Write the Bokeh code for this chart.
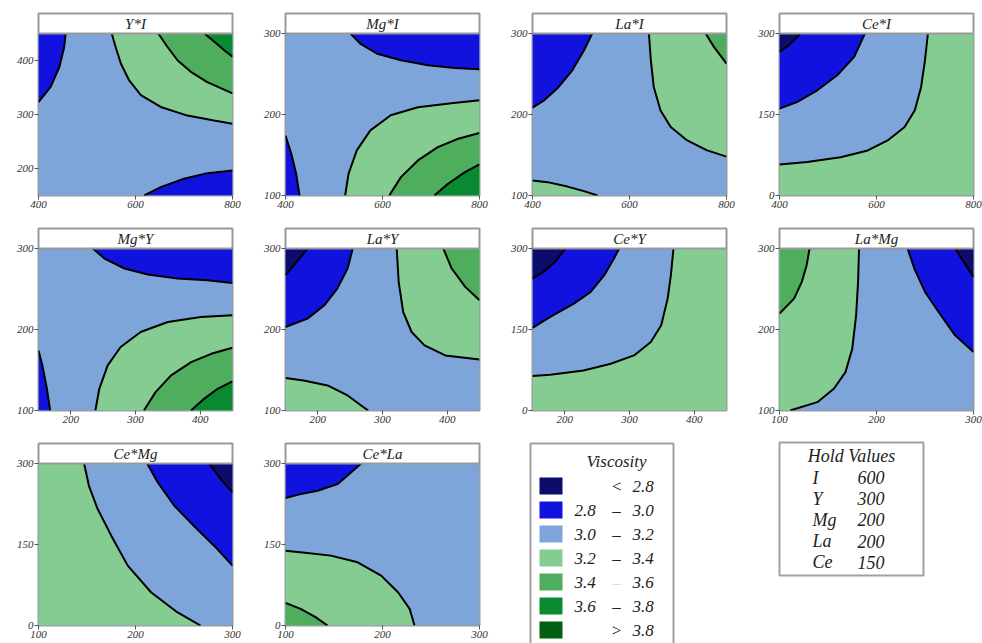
from bokeh.plotting import figure
from bokeh.models import Range1d, FixedTicker
from bokeh.layouts import row, column
from bokeh.core.properties import value
from bokeh.embed import file_html
from bokeh.resources import INLINE

# ---------------- data ----------------
LEVELS = [2.8, 3.0, 3.2, 3.4, 3.6, 3.8]
BAND_COLORS = ["#0c0c6c", "#1212de", "#7ea5d9", "#84cc92", "#4fad5e", "#0a8a30", "#006010"]

RANGES = {"I": (400, 800), "Y": (150, 450), "Mg": (100, 300), "La": (100, 300), "Ce": (0, 300)}
TICKS = {"I": [400, 600, 800], "Y": [200, 300, 400], "Mg": [100, 200, 300],
         "La": [100, 200, 300], "Ce": [0, 150, 300]}

HOLD_NAMES = ["I", "Y", "Mg", "La", "Ce"]
HOLD_VALUES = [600, 300, 200, 200, 150]

# contour regions: (band filled, closing corners, x values, y values)
Y_I = [
    (1, "tl", [456, 453, 443, 425, 400], [450, 425, 388, 351, 323]),
    (1, "br", [618, 652, 700, 748, 800], [150, 165.6, 181, 191.4, 196.4]),
    (3, "tr", [551, 559, 570, 587, 611, 652, 707, 762, 800], [450, 425, 394, 363, 336, 314, 298, 289, 283]),
    (4, "tr", [647, 666, 687, 714, 748, 800], [450, 425, 400, 379, 360, 339]),
    (5, "tr", [742, 762, 783, 800], [450, 435, 419, 407]),
]
MG_I = [
    (1, "tr", [534, 554, 589, 638, 694, 749, 800], [300, 287.6, 275, 267, 260.8, 257.5, 255.9]),
    (1, "bl", [400, 412, 422, 429], [174, 151.5, 126.8, 100]),
    (3, "br", [523, 530, 547, 575, 617, 673, 742, 800], [100, 126.8, 155.7, 180.4, 199, 209, 214, 217.5]),
    (4, "br", [614, 638, 673, 714, 756, 800], [100, 122.7, 143.3, 159.8, 170, 177.1]),
    (5, "br", [707, 735, 770, 800], [100, 114.4, 128.9, 138.4]),
]
LA_I = [
    (1, "tl", [523, 506, 482, 451, 424, 400], [300, 279, 254.6, 232, 217.5, 208.5]),
    (3, "tr", [640, 644, 650, 664, 685, 719, 760, 800], [300, 267, 234, 205, 184.5, 168, 155.7, 148]),
    (4, "tr", [757, 774, 800], [300, 283.5, 262.9]),
    (3, "bl", [400, 431, 472, 506, 534], [118.6, 116.5, 111, 105.4, 100]),
]
CE_I = [
    (2, "tl", [400, 457, 526, 582, 623, 658, 679, 692, 700, 706], [57.5, 61.9, 71, 83.5, 102, 126.8, 157.7, 201, 250.5, 300]),
    (1, "tl", [400, 436, 478, 519, 554, 576], [160.8, 173, 194.8, 222.7, 256.7, 300]),
    (0, "tl", [400, 419, 433, 443], [266, 278.4, 290.7, 300]),
]
MG_Y = [
    (1, "tr", [234, 252, 283, 319, 365, 411, 450], [300, 287.6, 275.3, 267.8, 262.9, 260.8, 257.5]),
    (1, "bl", [150, 156, 163, 168], [174.2, 155.7, 126.8, 100]),
    (3, "br", [238, 244, 257, 277, 308, 350, 401, 450], [100, 126.8, 155.7, 178.4, 196.9, 209.3, 215.5, 217.5]),
    (4, "br", [313, 331, 355, 386, 417, 450], [100, 122.7, 143.3, 159.8, 170, 177.5]),
    (5, "br", [386, 406, 427, 450], [100, 114.4, 126.8, 135.9]),
]
LA_Y = [
    (1, "tl", [254, 246, 230, 210, 184, 150], [300, 275.3, 250.5, 229.9, 213.4, 203.1]),
    (0, "tl", [150, 163, 176, 184], [267, 279.4, 291.8, 300]),
    (3, "tr", [322, 325, 332, 345, 365, 397, 450], [300, 258.8, 221.6, 196.9, 180.4, 168, 163.1]),
    (4, "tr", [394, 407, 428, 450], [300, 275.3, 252.6, 236.1]),
    (3, "bl", [150, 178, 215, 246, 267, 278], [140, 137.1, 130.9, 118.6, 106.2, 100]),
]
CE_Y = [
    (2, "tl", [150, 177.5, 229, 271, 307, 333, 349, 359, 364, 368], [63.7, 66.2, 74.2, 86.6, 102, 126.8, 157.7, 207.2, 250.5, 300]),
    (1, "tl", [150, 177.5, 214, 240, 261, 276, 284], [152.8, 173.2, 198, 219.6, 250.5, 281.4, 300]),
    (0, "tl", [150, 167, 185, 201], [244.3, 256.7, 275.3, 300]),
]
LA_MG = [
    (3, "bl tl", [182, 181, 179, 175, 168, 156, 139, 111], [300, 258.8, 217.5, 176.3, 147.4, 126.8, 110.3, 100]),
    (4, "tl", [131, 128, 123, 115, 100], [300, 279.4, 258.8, 238.1, 219.6]),
    (1, "tr", [232, 239, 250, 264, 281, 300], [300, 275.3, 246.4, 221.6, 192.8, 172.2]),
    (0, "tr", [281, 290, 300], [300, 283.5, 264.9]),
]
CE_MG = [
    (3, "bl tl", [147, 152, 161, 175, 192, 216, 243, 267], [300, 258.7, 215.6, 166.4, 110.9, 61.6, 24.6, 0]),
    (1, "tr", [212, 223, 240, 260, 281, 300], [300, 264.9, 221.8, 184.8, 147.8, 110.9]),
    (0, "tr", [276, 288, 300], [300, 271, 246.4]),
]
CE_LA = [
    (1, "tl", [178, 167.5, 153.6, 133, 115.6, 100], [300, 283.4, 261.8, 249.5, 243.3, 236]),
    (3, "bl", [100, 122.5, 146.7, 174.4, 198.6, 216, 228, 233], [138.6, 134.3, 129.4, 117, 92.4, 61.6, 30.8, 0]),
    (4, "bl", [100, 115.6, 131, 143.3], [41.9, 30.8, 15.4, 0]),
]

# (y factor, x factor, background band, contours)
PANELS = [
    ("Y", "I", 2, Y_I), ("Mg", "I", 2, MG_I), ("La", "I", 2, LA_I), ("Ce", "I", 3, CE_I),
    ("Mg", "Y", 2, MG_Y), ("La", "Y", 2, LA_Y), ("Ce", "Y", 3, CE_Y), ("La", "Mg", 2, LA_MG),
    ("Ce", "Mg", 2, CE_MG), ("Ce", "La", 2, CE_LA),
]

# ---------------- layout constants ----------------
COL_W = [247, 247, 247, 241]
ROW_H = [215, 215, 213]
FRAME_W = 194
PLOT_H = 162
HDR_H = 20
LEFT = 38
TOP = 13
SERIF = "Liberation Serif"
GRAY = "#9a9a9a"


def corner_pts(code, xr, yr):
    m = {"tl": (xr[0], yr[1]), "tr": (xr[1], yr[1]), "bl": (xr[0], yr[0]), "br": (xr[1], yr[0])}
    return [m[c] for c in code.split()]


def make_panel(yname, xname, bg, contours, w, h):
    xr = RANGES[xname]
    yr = RANGES[yname]
    hdr = (yr[1] - yr[0]) * HDR_H / PLOT_H
    p = figure(width=w, height=h, x_range=Range1d(*xr), y_range=Range1d(yr[0], yr[1] + hdr),
               output_backend="svg", toolbar_location=None, title=None,
               min_border_left=LEFT, min_border_right=w - LEFT - FRAME_W,
               min_border_top=TOP, min_border_bottom=h - TOP - PLOT_H - HDR_H)
    p.grid.visible = False
    p.outline_line_color = GRAY
    p.outline_line_width = 2
    p.background_fill_color = "white"
    p.border_fill_color = "white"

    p.quad(left=[xr[0]], right=[xr[1]], bottom=[yr[0]], top=[yr[1]],
           fill_color=BAND_COLORS[bg], line_color=None)
    pxs, pys, cols, lxs, lys = [], [], [], [], []
    for band, corners, xs, ys in contours:
        cp = corner_pts(corners, xr, yr)
        pxs.append(list(xs) + [c[0] for c in cp])
        pys.append(list(ys) + [c[1] for c in cp])
        cols.append(BAND_COLORS[band])
        lxs.append(xs)
        lys.append(ys)
    p.patches(xs=pxs, ys=pys, fill_color=cols, line_color=None)
    p.multi_line(xs=lxs, ys=lys, line_color="black", line_width=2)

    p.segment(x0=[xr[0]], x1=[xr[1]], y0=[yr[1]], y1=[yr[1]], line_color=GRAY, line_width=2)
    p.text(x=[(xr[0] + xr[1]) / 2], y=[yr[1] + hdr / 2], text=[f"{yname}*{xname}"],
           text_font=value(SERIF), text_font_style="italic", text_font_size="15px",
           text_align="center", text_baseline="middle", text_color="#222")

    p.xaxis.ticker = FixedTicker(ticks=TICKS[xname])
    p.yaxis.ticker = FixedTicker(ticks=TICKS[yname])
    for ax in (p.xaxis, p.yaxis):
        ax.axis_line_color = None
        ax.major_tick_line_color = "#555"
        ax.major_tick_out = 4
        ax.major_tick_in = 0
        ax.minor_tick_line_color = None
        ax.major_label_text_font = SERIF
        ax.major_label_text_font_style = "italic"
        ax.major_label_text_font_size = "11px"
        ax.major_label_text_color = "#333"
        ax.major_label_standoff = 1
    return p


def blank(w, h):
    p = figure(frame_width=w, frame_height=h, x_range=Range1d(0, w), y_range=Range1d(h, 0),
               output_backend="svg", toolbar_location=None, title=None,
               min_border_left=0, min_border_right=0, min_border_top=0, min_border_bottom=0,
               x_axis_type=None, y_axis_type=None)
    try:
        p.frame_align = False
    except Exception:
        pass
    p.grid.visible = False
    p.outline_line_color = None
    return p


def make_legend(w, h):
    p = blank(w, h)
    p.quad(left=[36], right=[179], top=[13], bottom=[h + 5], fill_color="white",
           line_color="#a0a0a0", line_width=2)
    p.text(x=[122], y=[31], text=["Viscosity"], text_font=value(SERIF), text_font_style="italic",
           text_font_size="17px", text_align="center", text_baseline="middle", text_color="#222")
    n = len(BAND_COLORS)
    ys = [55.5 + 24 * i for i in range(n)]
    p.rect(x=[56.5] * n, y=ys, width=23, height=17, fill_color=BAND_COLORS, line_color=None)
    lows, dashes, highs = [], [], []
    for i in range(n):
        if i == 0:
            lows.append(""); dashes.append("<"); highs.append(f"{LEVELS[0]:.1f}")
        elif i == n - 1:
            lows.append(""); dashes.append(">"); highs.append(f"{LEVELS[-1]:.1f}")
        else:
            lows.append(f"{LEVELS[i-1]:.1f}"); dashes.append("–"); highs.append(f"{LEVELS[i]:.1f}")
    common = dict(text_font=value(SERIF), text_font_style="italic", text_font_size="17px",
                  text_baseline="middle", text_color="#222")
    p.text(x=[80] * n, y=ys, text=lows, text_align="left", **common)
    dash_cols = ["#222"] * n
    dash_cols[4] = "#dddddd"
    p.text(x=[122] * n, y=ys, text=dashes, text_align="center",
           text_font=value(SERIF), text_font_style="italic", text_font_size="17px",
           text_baseline="middle", text_color=dash_cols)
    p.text(x=[138] * n, y=ys, text=highs, text_align="left", **common)
    return p


def make_hold(w, h):
    p = blank(w, h)
    p.quad(left=[38], right=[182], top=[12], bottom=[145], fill_color="white",
           line_color="#a0a0a0", line_width=2)
    p.text(x=[110], y=[25], text=["Hold Values"], text_font=value(SERIF), text_font_style="italic",
           text_font_size="18px", text_align="center", text_baseline="middle", text_color="#222")
    ys = [47 + 21.2 * i for i in range(len(HOLD_NAMES))]
    common = dict(text_font=value(SERIF), text_font_style="italic", text_font_size="18px",
                  text_baseline="middle", text_color="#222", text_align="left")
    p.text(x=[71] * len(ys), y=ys, text=HOLD_NAMES, **common)
    p.text(x=[116] * len(ys), y=ys, text=[str(v) for v in HOLD_VALUES], **common)
    return p


rows = []
k = 0
for r in range(3):
    items = []
    for c in range(4):
        if k < len(PANELS):
            yname, xname, bg, cont = PANELS[k]
            items.append(make_panel(yname, xname, bg, cont, COL_W[c], ROW_H[r]))
            k += 1
        elif c == 2:
            items.append(make_legend(COL_W[c], ROW_H[r]))
        else:
            items.append(make_hold(COL_W[c], ROW_H[r]))
    rows.append(row(*items, spacing=0))

layout = column(*rows, spacing=0)
open("out.html", "w").write(file_html(layout, INLINE))
